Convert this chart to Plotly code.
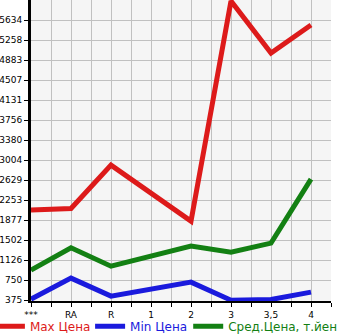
import plotly.graph_objects as go

categories = ["***", "RA", "R", "1", "2", "3", "3,5", "4"]
max_price = [2066, 2097, 2911, 2385, 1859, 5991, 5014, 5540]
min_price = [394, 789, 451, 582, 714, 375, 388, 526]
avg_price = [939, 1358, 1014, 1202, 1390, 1277, 1446, 2648]
y_ticks = [375, 750, 1126, 1502, 1877, 2253, 2629, 3004, 3380, 3756, 4131, 4507, 4883, 5258, 5634]

xpos = list(range(len(categories)))

series = [
    ("Max Цена", max_price, "#dd1a1a", "legend"),
    ("Min Цена", min_price, "#1a1add", "legend2"),
    ("Сред.Цена, т.йен", avg_price, "#138013", "legend3"),
]

fig = go.Figure()
for name, vals, col, lg in series:
    fig.add_trace(go.Scatter(
        x=xpos, y=vals, mode="lines",
        line=dict(color=col, width=5),
        name=f"<span style='color:{col}'>{name}</span>",
        legend=lg,
    ))

tickvals = []
ticktext = []
for i, c in enumerate(categories):
    tickvals.append(i)
    ticktext.append(c)
    tickvals.append(i + 0.5)
    ticktext.append("")

leg_common = dict(orientation="h", xanchor="left", y=-0.036, yanchor="top",
                  font=dict(size=12, family="DejaVu Sans"), itemwidth=30,
                  bgcolor="rgba(0,0,0,0)")

fig.update_layout(
    width=345, height=335,
    margin=dict(l=31, r=14, t=0, b=34, autoexpand=False),
    paper_bgcolor="white",
    plot_bgcolor="#f5f5f5",
    font=dict(family="DejaVu Sans", size=9, color="black"),
    showlegend=True,
    legend=dict(x=-0.137, **leg_common),
    legend2=dict(x=0.197, **leg_common),
    legend3=dict(x=0.524, **leg_common),
    xaxis=dict(
        range=[0, 7.5], tickmode="array", tickvals=tickvals, ticktext=ticktext,
        showgrid=True, gridcolor="#c0c0c0", gridwidth=1,
        showline=True, linecolor="black", linewidth=2,
        ticks="outside", ticklen=4, tickcolor="black", zeroline=False,
    ),
    yaxis=dict(
        range=[360, 6010], tickmode="array", tickvals=y_ticks,
        showgrid=True, gridcolor="#c0c0c0", gridwidth=1,
        showline=True, linecolor="black", linewidth=3,
        ticks="outside", ticklen=4, tickcolor="black", zeroline=False,
    ),
)

fig.write_html("out.html")
